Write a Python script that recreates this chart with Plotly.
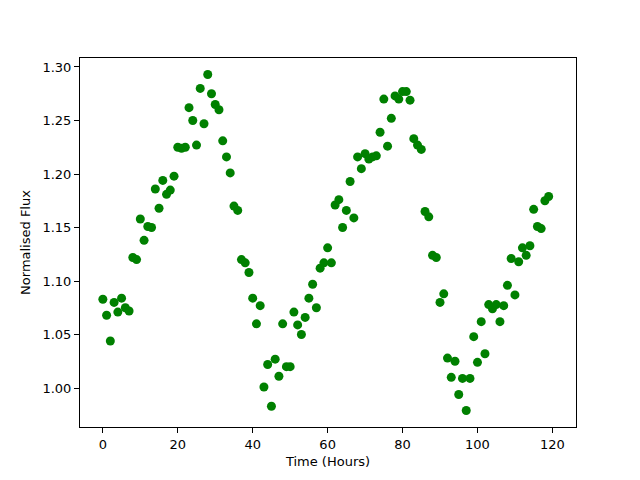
import plotly.graph_objects as go

hours = list(range(120))
flux = [1.083, 1.068, 1.044, 1.080, 1.071, 1.084, 1.075, 1.072, 1.122, 1.120,
        1.158, 1.138, 1.151, 1.150, 1.186, 1.168, 1.194, 1.181, 1.185, 1.198,
        1.225, 1.224, 1.225, 1.262, 1.250, 1.227, 1.280, 1.247, 1.293, 1.275,
        1.265, 1.260, 1.231, 1.216, 1.201, 1.170, 1.166, 1.120, 1.117, 1.108,
        1.084, 1.060, 1.077, 1.001, 1.022, 0.983, 1.027, 1.011, 1.060, 1.020,
        1.020, 1.071, 1.059, 1.050, 1.066, 1.084, 1.097, 1.075, 1.112, 1.117,
        1.131, 1.117, 1.171, 1.176, 1.150, 1.166, 1.193, 1.159, 1.216, 1.205,
        1.219, 1.214, 1.216, 1.217, 1.239, 1.270, 1.226, 1.252, 1.273, 1.270,
        1.277, 1.277, 1.269, 1.233, 1.227, 1.223, 1.165, 1.160, 1.124, 1.122,
        1.080, 1.088, 1.028, 1.010, 1.025, 0.994, 1.009, 0.979, 1.009, 1.048,
        1.024, 1.062, 1.032, 1.078, 1.074, 1.078, 1.062, 1.077, 1.096, 1.121,
        1.087, 1.118, 1.131, 1.124, 1.133, 1.167, 1.151, 1.149, 1.175, 1.179]

x_ticks = [0, 20, 40, 60, 80, 100, 120]
y_ticks = [1.00, 1.05, 1.10, 1.15, 1.20, 1.25, 1.30]

fig = go.Figure(go.Scatter(
    x=hours, y=flux, mode="markers",
    marker=dict(color="#008000", size=9, line=dict(width=0)),
))

font = dict(family="DejaVu Sans", size=13, color="black")
axis_common = dict(
    showgrid=False, zeroline=False, showline=True, mirror=True,
    linecolor="black", linewidth=1, ticks="outside", ticklen=5,
    tickwidth=1, tickcolor="black", tickfont=font, automargin=False,
)
fig.update_layout(
    width=640, height=480,
    margin=dict(l=80, r=64, t=58, b=53),
    paper_bgcolor="white", plot_bgcolor="white",
    showlegend=False,
    xaxis=dict(range=[-6.1, 126.3], tickvals=x_ticks,
               title=dict(text="Time (Hours)", font=font, standoff=6),
               **axis_common),
    yaxis=dict(range=[0.9636, 1.3084], tickvals=y_ticks, tickformat=".2f",
               title=dict(text="Normalised Flux", font=font, standoff=8),
               **axis_common),
)

fig.write_html("out.html", config={"displayModeBar": False},
               post_script="document.body.style.margin='0';")
